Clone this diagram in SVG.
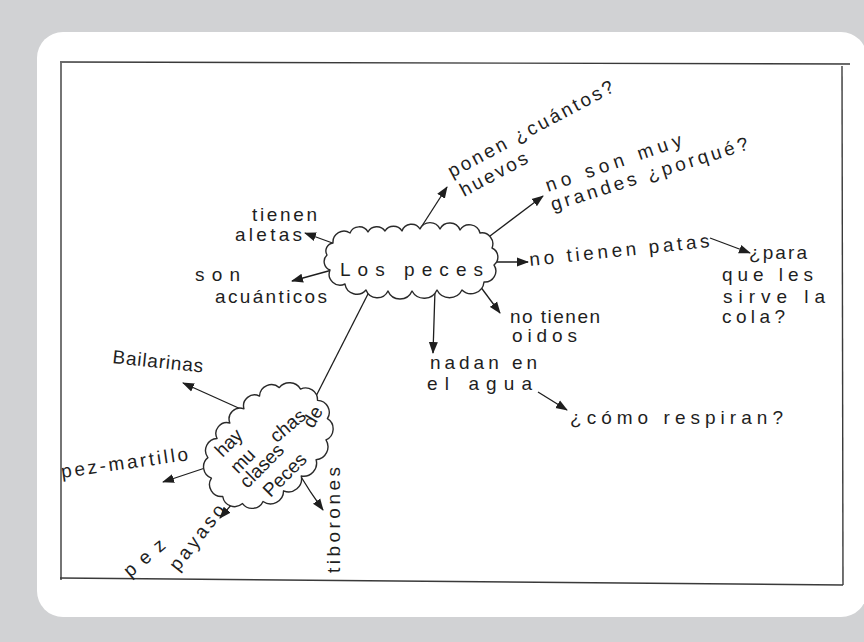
<svg xmlns="http://www.w3.org/2000/svg" width="864" height="642" viewBox="0 0 864 642">
  <defs>
    <marker id="ah" markerWidth="12" markerHeight="10" refX="11" refY="5" orient="auto" markerUnits="userSpaceOnUse">
      <path d="M0,0.5 L12,5 L0,9.5 Z" fill="#1e1e1e"/>
    </marker>
    <style>
      .t { font-family: "Liberation Sans", "DejaVu Sans", sans-serif; fill: #1e1e1e; font-size: 19px; }
      .c { fill: #ffffff; stroke: #2a2a2a; stroke-width: 1.4; stroke-linejoin: round; }
      .a { fill: none; stroke: #1e1e1e; stroke-width: 1.3; marker-end: url(#ah); }
      .f { fill: none; stroke: #3a3a3a; stroke-width: 1.4; }
    </style>
  </defs>

  <rect x="0" y="0" width="864" height="642" fill="#d1d2d4"/>
  <rect x="37" y="32" width="830" height="585" rx="26" fill="#ffffff"/>

  <g id="frame">
    <line class="f" x1="60" y1="62" x2="850" y2="64" stroke-width="2.2"/>
    <line class="f" x1="61" y1="63" x2="61" y2="580"/>
    <line class="f" x1="842" y1="66" x2="843" y2="585"/>
    <line class="f" x1="60" y1="578" x2="843" y2="585" stroke-width="1.8"/>
  </g>

  <g id="connectors">
    <line class="a" x1="338" y1="245" x2="305" y2="233"/>
    <line class="a" x1="332" y1="270" x2="292" y2="281"/>
    <line class="a" x1="420" y1="229" x2="447" y2="187"/>
    <line class="a" x1="490" y1="236" x2="543" y2="196"/>
    <line class="a" x1="493" y1="262" x2="528" y2="262"/>
    <line class="a" x1="477" y1="282" x2="500" y2="313"/>
    <line class="a" x1="435" y1="290" x2="433" y2="353"/>
    <line class="a" x1="538" y1="392" x2="567" y2="410"/>
    <line class="a" x1="710" y1="238" x2="750" y2="253"/>
    <line class="a" x1="370" y1="290" x2="310" y2="408"/>
    <line class="a" x1="243" y1="410" x2="183" y2="383"/>
    <line class="a" x1="208" y1="467" x2="163" y2="482"/>
    <line class="a" x1="238" y1="497" x2="220" y2="518"/>
    <path class="a" d="M298,472 Q310,492 323,510"/>
  </g>

  <g id="los-peces">
    <path class="c" d="M333,243 A11,11 0 0 1 350,233 A10,10 0 0 1 368,232 A10,10 0 0 1 385,231 A10,10 0 0 1 402,231 A10,10 0 0 1 420,229 A11,11 0 0 1 440,229 A11,11 0 0 1 460,230 A11,11 0 0 1 480,233 A11,11 0 0 1 492,248 A10,10 0 0 1 494,265 A11,11 0 0 1 484,282 A13,13 0 0 1 462,290 A14,14 0 0 1 437,290 A14,14 0 0 1 412,291 A13,13 0 0 1 388,291 A12,12 0 0 1 366,290 A12,12 0 0 1 345,284 A11,11 0 0 1 330,270 A9,9 0 0 1 327,255 A8,8 0 0 1 333,243 Z"/>
    <text class="t" x="340" y="276" font-size="30" textLength="143" lengthAdjust="spacing">Los peces</text>
  </g>

  <g id="tienen-aletas">
    <text class="t" x="252" y="221" textLength="65" lengthAdjust="spacing">tienen</text>
    <text class="t" x="235" y="241" textLength="67" lengthAdjust="spacing">aletas</text>
  </g>

  <g id="son-acuanticos">
    <text class="t" x="195" y="281" font-size="22" textLength="45" lengthAdjust="spacing">son</text>
    <text class="t" x="215" y="303" font-size="17" textLength="112" lengthAdjust="spacing">acuánticos</text>
  </g>

  <g id="ponen-huevos">
    <text class="t" transform="translate(452,178) rotate(-28)" font-size="20" textLength="185" lengthAdjust="spacing">ponen ¿cuántos?</text>
    <text class="t" transform="translate(464,197) rotate(-28)" textLength="74" lengthAdjust="spacing">huevos</text>
  </g>

  <g id="no-son-grandes">
    <text class="t" transform="translate(548,192) rotate(-19)" font-size="20" textLength="143" lengthAdjust="spacing">no son muy</text>
    <text class="t" transform="translate(553,211) rotate(-17.5)" font-size="20" textLength="206" lengthAdjust="spacing">grandes ¿porqué?</text>
  </g>

  <g id="no-tienen-patas">
    <text class="t" transform="translate(530,266) rotate(-6)" font-size="20" textLength="181" lengthAdjust="spacing">no tienen patas</text>
  </g>

  <g id="para-que">
    <text class="t" x="749" y="259" font-size="20" textLength="58" lengthAdjust="spacing">¿para</text>
    <text class="t" x="722" y="281" font-size="20" textLength="91" lengthAdjust="spacing">que les</text>
    <text class="t" x="723" y="303" font-size="20" textLength="102" lengthAdjust="spacing">sirve la</text>
    <text class="t" x="722" y="323" font-size="20" textLength="63" lengthAdjust="spacing">cola?</text>
  </g>

  <g id="no-tienen-oidos">
    <text class="t" x="510" y="323" textLength="90" lengthAdjust="spacing">no tienen</text>
    <text class="t" x="512" y="342" textLength="65" lengthAdjust="spacing">oidos</text>
  </g>

  <g id="nadan">
    <text class="t" x="430" y="369" textLength="107" lengthAdjust="spacing">nadan en</text>
    <text class="t" x="427" y="390" textLength="105" lengthAdjust="spacing">el agua</text>
  </g>

  <g id="respiran">
    <text class="t" x="570" y="424" font-size="21" textLength="213" lengthAdjust="spacing">¿cómo respiran?</text>
  </g>

  <g id="clases">
    <path class="c" transform="translate(268,447) rotate(-45)" d="M-62,-18 A12,12 0 0 1 -50,-35 A12,12 0 0 1 -30,-42 A11,11 0 0 1 -10,-44 A11,11 0 0 1 10,-44 A11,11 0 0 1 30,-42 A12,12 0 0 1 50,-34 A13,13 0 0 1 64,-18 A12,12 0 0 1 68,2 A12,12 0 0 1 62,22 A12,12 0 0 1 46,36 A13,13 0 0 1 25,43 A13,13 0 0 1 3,44 A13,13 0 0 1 -20,42 A13,13 0 0 1 -42,35 A12,12 0 0 1 -58,22 A12,12 0 0 1 -67,3 A12,12 0 0 1 -62,-18 Z"/>
    <text class="t" transform="translate(229,443) rotate(-45)" text-anchor="middle" dy="6" font-size="18">hay</text>
    <text class="t" transform="translate(288,426) rotate(-40)" text-anchor="middle" dy="6" font-size="18">chas</text>
    <text class="t" transform="translate(243,461) rotate(-45)" text-anchor="middle" dy="6" font-size="18">mu</text>
    <text class="t" transform="translate(313,417) rotate(-60)" text-anchor="middle" dy="6" font-size="17">de</text>
    <text class="t" transform="translate(262,466) rotate(-45)" text-anchor="middle" dy="6" font-size="17">clases</text>
    <text class="t" transform="translate(285,475) rotate(-45)" text-anchor="middle" dy="6" font-size="18">Peces</text>
  </g>

  <g id="bailarinas">
    <text class="t" transform="translate(112,363) rotate(6)" font-size="17" textLength="91" lengthAdjust="spacing">Bailarinas</text>
  </g>

  <g id="pez-martillo">
    <text class="t" transform="translate(62,478) rotate(-8)" font-size="19" textLength="128" lengthAdjust="spacing">pez-martillo</text>
  </g>

  <g id="pez-payaso">
    <text class="t" transform="translate(130,578) rotate(-40)" font-size="20" textLength="48" lengthAdjust="spacing">pez</text>
    <text class="t" transform="translate(178,572) rotate(-52)" font-size="19" textLength="78" lengthAdjust="spacing">payaso</text>
  </g>

  <g id="tiburones">
    <text class="t" transform="translate(340,573) rotate(-90)" font-size="19" textLength="106" lengthAdjust="spacing">tiborones</text>
  </g>
</svg>
